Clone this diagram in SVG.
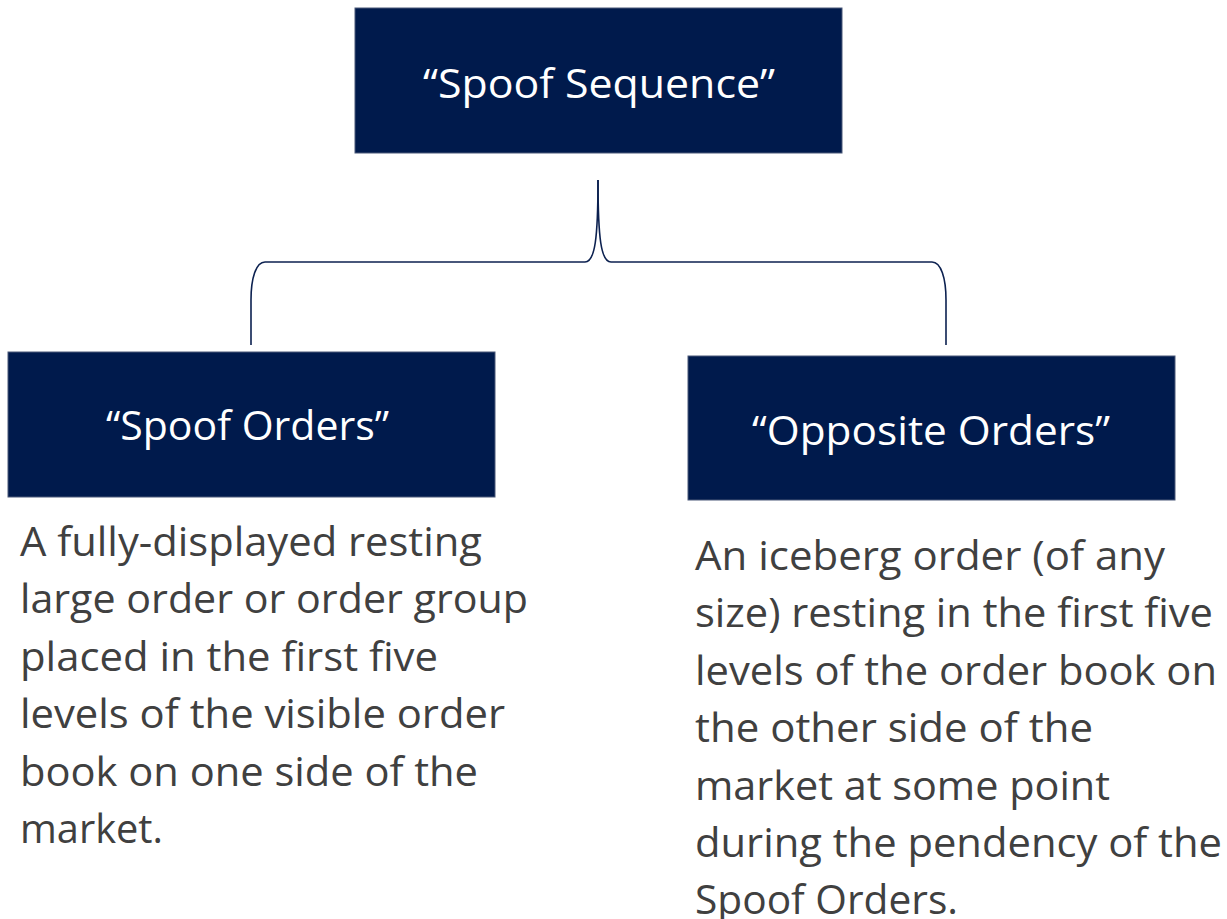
<svg xmlns="http://www.w3.org/2000/svg" width="1227" height="919" viewBox="0 0 1227 919">
<style>
.box{fill:#001a4c;stroke:#4a5878;stroke-width:1}
.title{font-family:"Open Sans","Liberation Sans",sans-serif;font-size:41px;fill:#ffffff}
.body{font-family:"Open Sans","Liberation Sans",sans-serif;font-size:40px;fill:#404040}
.conn{fill:none;stroke:#0c2150;stroke-width:1.6}
</style>
<rect width="1227" height="919" fill="#ffffff"/>
<g id="connectors">
<path class="conn" d="M598 180 C598 238 595 262 585 262 L265 262 C256 262 251 278 251 300 L251 345"/>
<path class="conn" d="M598 180 C598 238 601 262 611 262 L932 262 C941 262 946 278 946 300 L946 345"/>
</g>
<g id="spoof-sequence">
<rect class="box" x="355" y="8" width="487" height="145"/>
<text class="title" x="423" y="98" textLength="352" lengthAdjust="spacingAndGlyphs">“Spoof Sequence”</text>
</g>
<g id="spoof-orders">
<rect class="box" x="8" y="352" width="487" height="145"/>
<text class="title" x="106" y="440" textLength="283" lengthAdjust="spacingAndGlyphs">“Spoof Orders”</text>
<text class="body" x="20" y="556" textLength="462" lengthAdjust="spacingAndGlyphs">A fully-displayed resting</text>
<text class="body" x="20" y="613" textLength="508" lengthAdjust="spacingAndGlyphs">large order or order group</text>
<text class="body" x="20" y="671" textLength="418" lengthAdjust="spacingAndGlyphs">placed in the first five</text>
<text class="body" x="20" y="728" textLength="485" lengthAdjust="spacingAndGlyphs">levels of the visible order</text>
<text class="body" x="20" y="786" textLength="458" lengthAdjust="spacingAndGlyphs">book on one side of the</text>
<text class="body" x="20" y="843" textLength="143" lengthAdjust="spacingAndGlyphs">market.</text>
</g>
<g id="opposite-orders">
<rect class="box" x="688" y="356" width="487" height="144"/>
<text class="title" x="752" y="445" textLength="358" lengthAdjust="spacingAndGlyphs">“Opposite Orders”</text>
<text class="body" x="695" y="570" textLength="470" lengthAdjust="spacingAndGlyphs">An iceberg order (of any</text>
<text class="body" x="695" y="627" textLength="518" lengthAdjust="spacingAndGlyphs">size) resting in the first five</text>
<text class="body" x="695" y="685" textLength="522" lengthAdjust="spacingAndGlyphs">levels of the order book on</text>
<text class="body" x="695" y="742" textLength="398" lengthAdjust="spacingAndGlyphs">the other side of the</text>
<text class="body" x="695" y="800" textLength="415" lengthAdjust="spacingAndGlyphs">market at some point</text>
<text class="body" x="695" y="857" textLength="527" lengthAdjust="spacingAndGlyphs">during the pendency of the</text>
<text class="body" x="695" y="914" textLength="263" lengthAdjust="spacingAndGlyphs">Spoof Orders.</text>
</g>
</svg>
